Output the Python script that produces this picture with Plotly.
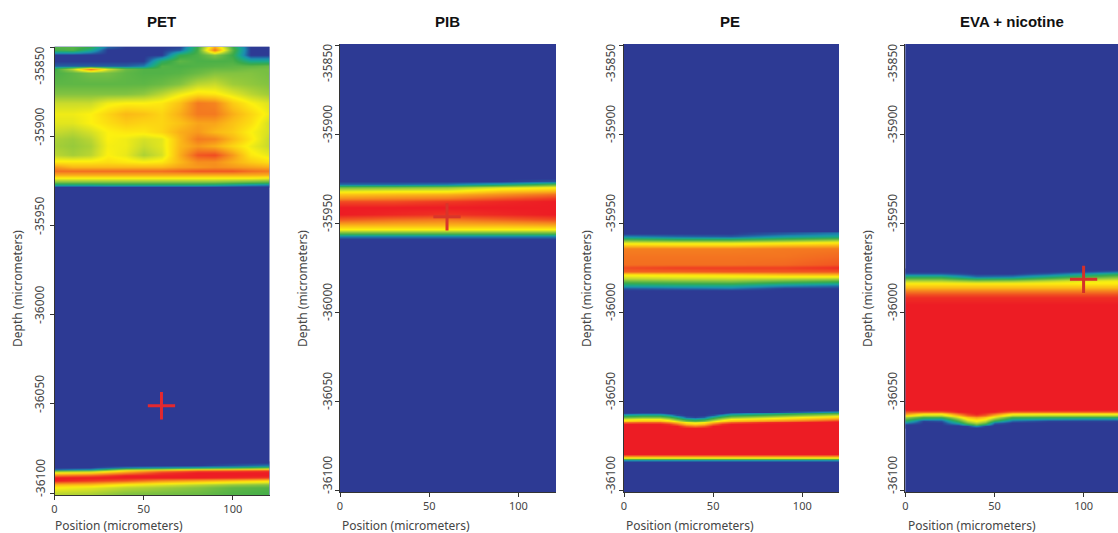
import plotly.graph_objects as go

W, H = 1118, 533

# ---------- PET ----------
pet_top_x = [0, 10, 20, 30, 40, 50, 60, 70, 80, 90, 100, 110, 120]
pet_top_depth = [-35849, -35851, -35854, -35857, -35860, -35862, -35864, -35870, -35876, -35881, -35887,
                 -35892, -35897, -35901, -35905, -35910, -35914, -35917, -35919, -35921, -35923, -35925,
                 -35927, -35928]
pet_top_z = [
    [.35, .35, .32, .10, 0, 0, 0, 0, .30, .72, .30, 0, 0],
    [.32, .34, .20, 0, 0, 0, 0, .05, .32, .85, .35, 0, 0],
    [0, 0, 0, 0, 0, 0, 0, .28, .33, .42, .30, 0, 0],
    [0, 0, 0, 0, 0, 0, .25, .36, .33, .33, .33, .20, .20],
    [.06, .06, .06, .06, .06, .10, .34, .33, .34, .35, .36, .36, .38],
    [.30, .50, .85, .55, .38, .34, .34, .34, .36, .38, .38, .40, .40],
    [.33, .36, .40, .40, .36, .34, .34, .35, .38, .42, .42, .42, .40],
    [.36, .36, .36, .36, .36, .36, .38, .42, .50, .52, .46, .44, .42],
    [.42, .42, .42, .42, .42, .44, .50, .58, .64, .62, .56, .50, .46],
    [.52, .52, .52, .58, .60, .60, .62, .70, .84, .82, .68, .60, .55],
    [.58, .58, .60, .66, .72, .70, .66, .74, .84, .84, .74, .66, .58],
    [.56, .56, .60, .64, .68, .66, .66, .70, .76, .76, .70, .64, .54],
    [.52, .50, .54, .60, .62, .62, .66, .74, .78, .72, .68, .60, .54],
    [.48, .46, .50, .60, .58, .54, .56, .72, .84, .82, .72, .62, .52],
    [.47, .45, .48, .59, .58, .52, .56, .72, .78, .74, .66, .58, .52],
    [.50, .47, .50, .60, .57, .48, .54, .74, .90, .92, .78, .62, .57],
    [.62, .62, .62, .64, .62, .60, .62, .72, .80, .80, .74, .68, .64],
    [.78, .72, .72, .72, .72, .72, .72, .76, .78, .80, .78, .76, .74],
    [.86, .86, .86, .86, .86, .86, .86, .88, .90, .90, .90, .86, .84],
    [.74, .74, .74, .74, .74, .74, .74, .74, .74, .74, .74, .74, .74],
    [.60, .60, .60, .60, .60, .60, .60, .60, .60, .60, .60, .60, .58],
    [.42, .42, .42, .42, .42, .42, .42, .42, .42, .42, .40, .38, .36],
    [.20, .20, .20, .22, .22, .22, .22, .22, .22, .20, .16, .12, .10],
    [0, 0, 0, 0, 0, 0, 0, 0, 0, 0, 0, 0, 0],
]
pet_low_x = [0, 20, 40, 60, 80, 100, 120]
pet_low_depth = [-36083, -36084.5, -36085.5, -36086.5, -36087.5, -36088.5, -36090, -36091.5, -36093, -36095,
                 -36097, -36100, -36102]
pet_low_z = [
    [0, 0, 0, 0, 0, 0, 0],
    [0, 0, 0, 0, 0, .05, .10],
    [0, 0, .10, .15, .20, .25, .35],
    [.08, .15, .50, .55, .65, .70, .75],
    [.35, .40, .65, .80, .90, .92, .95],
    [.60, .65, .80, .95, 1, 1, 1],
    [.85, .90, 1, 1, 1, 1, 1],
    [1, 1, 1, 1, 1, .98, .95],
    [1, .95, .90, .80, .75, .70, .65],
    [.72, .70, .60, .55, .50, .45, .42],
    [.60, .56, .50, .46, .42, .36, .34],
    [.50, .48, .42, .40, .38, .34, .32],
    [.50, .48, .42, .40, .38, .34, .32],
]

# ---------- PIB ----------
pib_x = [0, 30, 60, 90, 120]
pib_depth = [-35925, -35926.5, -35928, -35930, -35932, -35934, -35936, -35938, -35941, -35945, -35948,
             -35951, -35953.5, -35955.5, -35957.5, -35959]
pib_z = [
    [0, 0, 0, 0, 0],
    [0, 0, 0, 0, .05],
    [.08, .08, .10, .20, .35],
    [.40, .42, .45, .55, .60],
    [.58, .60, .60, .70, .74],
    [.70, .72, .74, .80, .86],
    [.80, .82, .84, .90, .95],
    [.92, .92, .95, .98, 1],
    [1, 1, 1, 1, 1],
    [1, .98, .96, .98, 1],
    [.90, .86, .84, .88, .92],
    [.72, .72, .72, .72, .74],
    [.60, .60, .60, .60, .60],
    [.35, .35, .35, .35, .35],
    [.10, .10, .10, .10, .10],
    [0, 0, 0, 0, 0],
]

# ---------- PE ----------
pe_up_x = [0, 30, 60, 90, 120]
pe_up_depth = [-35956, -35957.5, -35959, -35961, -35962.5, -35964, -35969, -35973, -35975, -35977, -35979,
               -35981, -35983, -35985, -35986.5, -35988]
pe_up_z = [
    [0, 0, 0, .05, .10],
    [.12, .08, .06, .15, .20],
    [.35, .30, .30, .36, .42],
    [.55, .55, .55, .58, .62],
    [.70, .68, .68, .72, .74],
    [.83, .83, .83, .84, .84],
    [.85, .85, .85, .85, .87],
    [.86, .86, .86, .87, .90],
    [.92, .94, .94, .94, .97],
    [.88, .88, .90, .90, .90],
    [.62, .64, .66, .70, .72],
    [.50, .52, .52, .50, .48],
    [.36, .38, .40, .34, .30],
    [.18, .20, .20, .12, .08],
    [.04, .06, .08, 0, 0],
    [0, 0, 0, 0, 0],
]
pe_low_x = [0, 10, 20, 25, 30, 35, 40, 45, 50, 55, 60, 80, 100, 120]
pe_low_depth = [-36055, -36056, -36057, -36058, -36059, -36060, -36061, -36062, -36063, -36064, -36065, -36066,
                -36080, -36081, -36082, -36083, -36084]
pe_low_z = [
    [0, 0, 0, 0, 0, 0, 0, 0, 0, 0, 0, 0, 0, 0],
    [0, 0, 0, 0, 0, 0, 0, 0, 0, 0, 0, 0, .07, .16],
    [.02, .05, .05, 0, 0, 0, 0, 0, 0, 0, .08, .17, .27, .33],
    [.20, .23, .23, .16, .04, 0, 0, 0, .04, .16, .25, .33, .42, .51],
    [.36, .40, .40, .33, .22, .06, .02, .06, .22, .33, .42, .51, .60, .66],
    [.55, .59, .59, .51, .38, .25, .20, .25, .38, .51, .60, .66, .72, .80],
    [.68, .72, .72, .66, .56, .42, .36, .42, .56, .66, .72, .80, .88, .97],
    [.85, .88, .88, .80, .70, .60, .55, .60, .70, .80, .88, .97, 1, 1],
    [1, 1, 1, .97, .87, .72, .68, .72, .87, .97, 1, 1, 1, 1],
    [1, 1, 1, 1, 1, .90, .85, .90, 1, 1, 1, 1, 1, 1],
    [1, 1, 1, 1, 1, 1, 1, 1, 1, 1, 1, 1, 1, 1],
    [1, 1, 1, 1, 1, 1, 1, 1, 1, 1, 1, 1, 1, 1],
    [1, 1, 1, 1, 1, 1, 1, 1, 1, 1, 1, 1, 1, 1],
    [.80, .80, .80, .80, .80, .80, .80, .80, .80, .80, .80, .80, .80, .80],
    [.55, .55, .55, .55, .55, .55, .55, .55, .55, .55, .55, .55, .55, .55],
    [.12, .12, .12, .12, .12, .12, .12, .12, .12, .12, .12, .12, .12, .12],
    [0, 0, 0, 0, 0, 0, 0, 0, 0, 0, 0, 0, 0, 0],
]

# ---------- EVA + nicotine ----------
eva_up_x = [0, 20, 40, 60, 80, 100, 120]
eva_up_depth = [-35976, -35977, -35978.5, -35980, -35982, -35984, -35986, -35988, -35990, -35992, -35996,
                -36053, -36054]
eva_up_z = [
    [0, 0, 0, 0, 0, 0, 0],
    [0, 0, 0, 0, 0, .02, .08],
    [.05, .05, 0, 0, .05, .15, .25],
    [.25, .25, .08, .10, .22, .32, .40],
    [.48, .48, .42, .44, .50, .56, .58],
    [.62, .62, .62, .62, .62, .62, .62],
    [.72, .72, .72, .72, .72, .72, .72],
    [.82, .82, .82, .82, .82, .82, .82],
    [.92, .92, .92, .92, .92, .92, .92],
    [.97, .97, .97, .97, .97, .97, .97],
    [1, 1, 1, 1, 1, 1, 1],
    [1, 1, 1, 1, 1, 1, 1],
    [1, 1, 1, 1, 1, 1, 1],
]
eva_low_x = [0, 10, 20, 30, 35, 40, 45, 50, 60, 80, 100, 120]
eva_low_depth = [-36053, -36055, -36056, -36057, -36058, -36059, -36060, -36061, -36062, -36063, -36064, -36065]
eva_low_z = [
    [1, 1, 1, 1, 1, 1, 1, 1, 1, 1, 1, 1],
    [1, 1, 1, 1, 1, 1, 1, 1, 1, 1, 1, 1],
    [.90, .90, .90, 1, 1, 1, 1, 1, .90, .90, .90, .90],
    [.80, .62, .60, .85, .95, 1, .95, .85, .62, .60, .60, .60],
    [.64, .50, .50, .70, .86, .92, .86, .70, .50, .48, .48, .48],
    [.50, .35, .35, .58, .72, .80, .72, .58, .35, .33, .32, .32],
    [.38, .22, .18, .45, .62, .68, .62, .45, .22, .18, .15, .15],
    [.28, .02, .05, .33, .52, .60, .52, .30, .08, .02, .02, .02],
    [.12, 0, 0, .20, .40, .50, .40, .08, 0, 0, 0, 0],
    [0, 0, 0, .05, .20, .36, .20, 0, 0, 0, 0, 0],
    [0, 0, 0, 0, .02, .15, .02, 0, 0, 0, 0, 0],
    [0, 0, 0, 0, 0, 0, 0, 0, 0, 0, 0, 0],
]

titles = ["PET", "PIB", "PE", "EVA + nicotine"]
marker_x = [[60], [60], [], [100]]
marker_y = [[-36051], [-35946.5], [], [-35981.6]]
marker_color = ["#e3282f", "#d8352b", "#e3282f", "#d4302a"]

x_ticks = [0, 50, 100]
y_ticks = [-35850, -35900, -35950, -36000, -36050, -36100]
y_tick_labels = ["-35850", "-35900", "-35950", "-36000", "-36050", "-36100"]
x_label = "Position (micrometers)"
y_label = "Depth (micrometers)"

# layout in pixels
title_px = [161, 447, 730, 1012]
boxes = [(54.5, 269.5, 46.7, 495), (340, 556, 44, 492), (624, 839, 44, 492), (905.3, 1118, 44, 492)]
x_ends = [120.6, 121.1, 120.6, 119.3]
y_range = [-36101.1, -35849.4]
y_label_shift = [-18, 10, 10, 10, 10, 15]   # rotated tick labels sit off-centre from their ticks
y_ticklabel_px = [40, 327, 610, 892]
y_title_px = [17, 302, 586, 867]
y_title_py = 289
x_title_px = [53, 340, 624, 906]
x_title_py = 525

BLUE = "#2d3a94"
scale = [
    [0, BLUE], [.05, "#26589f"], [.12, "#1b8fb0"], [.20, "#19a98c"], [.30, "#3aaa4a"],
    [.42, "#83c341"], [.52, "#c9db2c"], [.60, "#fdf10f"], [.72, "#fbb917"], [.84, "#f47a20"], [1, "#ed1c24"],
]

panels = [
    [(pet_top_x, pet_top_depth, pet_top_z), (pet_low_x, pet_low_depth, pet_low_z)],
    [(pib_x, pib_depth, pib_z)],
    [(pe_up_x, pe_up_depth, pe_up_z), (pe_low_x, pe_low_depth, pe_low_z)],
    [(eva_up_x, eva_up_depth, eva_up_z), (eva_low_x, eva_low_depth, eva_low_z)],
]

fig = go.Figure()
tick_font = dict(family="Noto Sans", size=12, color="#454545")
x_tick_font = dict(family="Noto Sans", size=11, color="#454545")
layout = {}
annotations = []
for i, (bands, box) in enumerate(zip(panels, boxes)):
    n = "" if i == 0 else str(i + 1)
    for bx, by, bz in bands:
        fig.add_trace(go.Heatmap(x=bx, y=by, z=bz, zmin=0, zmax=1, zsmooth="best", colorscale=scale,
                                 showscale=False, hoverinfo="skip", xaxis="x" + n, yaxis="y" + n))
    if marker_x[i]:
        fig.add_trace(go.Scatter(x=marker_x[i], y=marker_y[i], mode="markers", showlegend=False,
                                 marker=dict(symbol="cross-thin", size=19.5,
                                             line=dict(width=3, color=marker_color[i])),
                                 xaxis="x" + n, yaxis="y" + n))
    l, r, t, b = box
    layout["xaxis" + n] = dict(
        domain=[l / W, r / W], range=[0, x_ends[i]], anchor="y" + n, tickvals=x_ticks, ticks="outside",
        ticklen=4, tickcolor="#333", showgrid=False, zeroline=False, showline=True, linecolor="#333", linewidth=1,
        automargin=False, tickfont=x_tick_font)
    layout["yaxis" + n] = dict(
        domain=[1 - b / H, 1 - t / H], range=y_range, anchor="x" + n, tickmode="array", tickvals=y_ticks,
        showticklabels=False, ticks="outside", ticklen=4, tickcolor="#333", showgrid=False,
        zeroline=False, showline=True, linecolor="#333", linewidth=1, automargin=False)
    annotations.append(dict(text="<b>%s</b>" % titles[i], x=title_px[i] / W, y=1 - 21 / H, xref="paper", yref="paper",
                            showarrow=False, xanchor="center", yanchor="middle",
                            font=dict(family="Liberation Sans", size=15, color="#111")))
    annotations.append(dict(text=x_label, x=x_title_px[i] / W, y=1 - x_title_py / H, xref="paper", yref="paper",
                            showarrow=False, xanchor="left", yanchor="middle", font=tick_font))
    annotations.append(dict(text=y_label, x=y_title_px[i] / W, y=1 - y_title_py / H, xref="paper", yref="paper",
                            showarrow=False, xanchor="center", yanchor="middle", textangle=-90, font=tick_font))
    for tv, tl, shift in zip(y_ticks, y_tick_labels, y_label_shift):
        annotations.append(dict(text=tl, x=y_ticklabel_px[i] / W, y=tv, xref="paper", yref="y" + n, yshift=shift,
                                showarrow=False, xanchor="center", yanchor="middle", textangle=-90, font=tick_font))

fig.update_layout(width=W, height=H, margin=dict(l=0, r=0, t=0, b=0), paper_bgcolor="white", plot_bgcolor=BLUE,
                  showlegend=False, annotations=annotations, **layout)
fig.write_html("out.html", config=dict(displayModeBar=False), post_script="document.body.style.margin='0';")
